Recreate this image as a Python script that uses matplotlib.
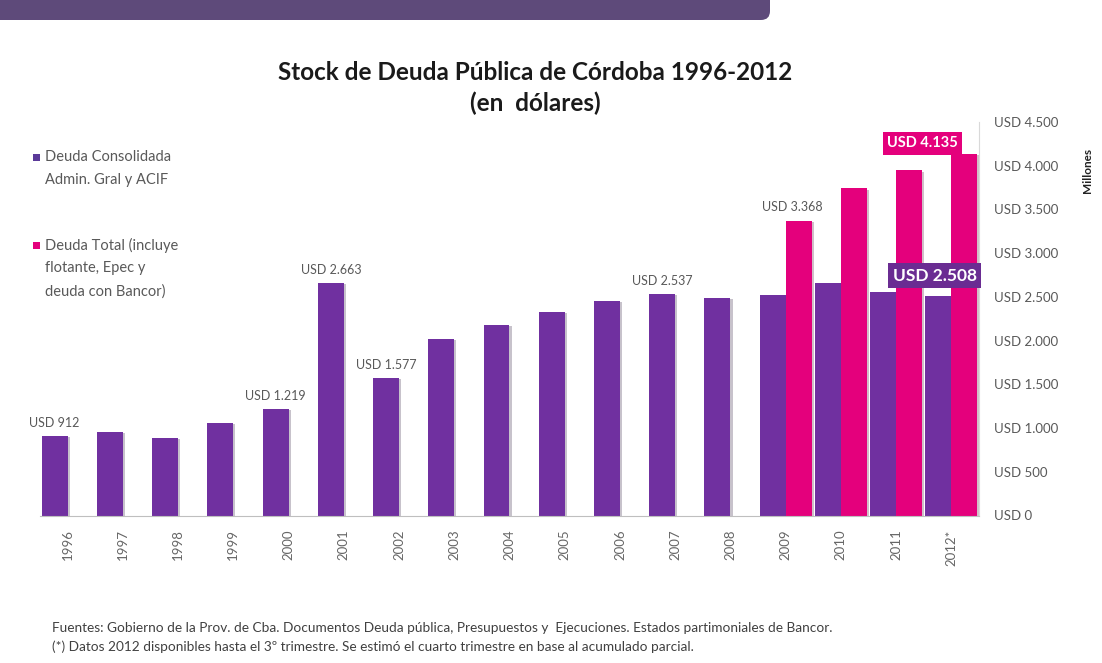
import numpy as np
import matplotlib
matplotlib.use("Agg")
import matplotlib.pyplot as plt
from matplotlib.patches import FancyBboxPatch, Rectangle
import matplotlib.patheffects as pe

years = ["1996", "1997", "1998", "1999", "2000", "2001", "2002", "2003", "2004",
         "2005", "2006", "2007", "2008", "2009", "2010", "2011", "2012*"]
consolidada = [912, 955, 888, 1060, 1219, 2663, 1577, 2022, 2182, 2331, 2457, 2537,
               2491, 2526, 2663, 2560, 2508]
total_years = ["2009", "2010", "2011", "2012*"]
total = [3368, 3740, 3946, 4135]

labels_cons = {"1996": "USD 912", "2000": "USD 1.219", "2001": "USD 2.663",
               "2002": "USD 1.577", "2007": "USD 2.537"}
yticks = [0, 500, 1000, 1500, 2000, 2500, 3000, 3500, 4000, 4500]
ytick_labels = ["USD 0", "USD 500", "USD 1.000", "USD 1.500", "USD 2.000",
                "USD 2.500", "USD 3.000", "USD 3.500", "USD 4.000", "USD 4.500"]

purple = "#7030A0"
magenta = "#E4007C"
gray = "#595959"

plt.rcParams['font.family'] = ['Lato', 'DejaVu Sans']

fig = plt.figure(figsize=(11.02, 6.63), dpi=100)
ax = fig.add_axes([40/1102, 1-515.5/663, (979-40)/1102, (515.5-122)/663])

x = np.arange(len(years))
w = 0.47
shadow = [pe.SimplePatchShadow(offset=(1.5, -1), alpha=0.25), pe.Normal()]

bars1 = ax.bar(x - w/2, consolidada, w, color=purple, zorder=2)
for b in bars1:
    b.set_path_effects(shadow)
xt = np.array([years.index(y) for y in total_years])
bars2 = ax.bar(xt + w/2, total, w, color=magenta, zorder=2)
for b in bars2:
    b.set_path_effects(shadow)

for yr, txt in labels_cons.items():
    i = years.index(yr)
    ax.annotate(txt, (i - w/2, consolidada[i]), xytext=(0, 5), textcoords="offset points",
                ha="center", va="bottom", fontsize=9, color=gray)
ax.annotate("USD 3.368", (xt[0] + w/2 - 0.12, total[0]), xytext=(0, 6), textcoords="offset points",
            ha="center", va="bottom", fontsize=9, color=gray)

# boxed labels for 2012
ax.text(15.47, 4255, "USD 4.135", ha="center", va="center", fontsize=10.5, fontweight="bold",
        color="white", zorder=5,
        bbox=dict(boxstyle="square,pad=0.28", fc=magenta, ec="none"))
ax.text(15.7, 2743, "USD 2.508", ha="center", va="center", fontsize=12.5, fontweight="bold",
        color="white", zorder=5,
        bbox=dict(boxstyle="square,pad=0.25", fc="#6A2C92", ec="none"))

ax.set_xlim(-0.5, len(years) - 0.5)
ax.set_ylim(0, 4500)
ax.set_xticks(x)
ax.set_xticklabels(years, rotation=90, fontsize=9.5, color="#666666")
ax.tick_params(axis="x", length=0, pad=10)
ax.yaxis.tick_right()
ax.set_yticks(yticks)
ax.set_yticklabels(ytick_labels, fontsize=9.5, color=gray)
ax.tick_params(axis="y", length=0, pad=11)
ax.spines['left'].set_visible(False)
ax.spines['top'].set_visible(False)
ax.spines['right'].set_color("#D9D9D9")
ax.spines['bottom'].set_color("#BFBFBF")
ax.spines['right'].set_linewidth(0.8)

fig.text(1088/1102, 1-170/663, "Millones", rotation=90, ha="center", va="center",
         fontsize=8.5, fontweight="bold", color="#222222")

fig.text(535/1102, 1-72/663, "Stock de Deuda Pública de Córdoba 1996-2012", ha="center",
         va="center", fontsize=17.5, fontweight="bold", color="#1A1A1A")
fig.text(535/1102, 1-103/663, "(en  dólares)", ha="center", va="center", fontsize=17.5,
         fontweight="bold", color="#1A1A1A")

# legend
fig.add_artist(Rectangle((33/1102, 1-161/663), 7/1102, 7/663, transform=fig.transFigure,
                         fc="#5B3A99", ec="none"))
fig.text(45/1102, 1-157/663, "Deuda Consolidada", fontsize=10.5, color=gray, va="center")
fig.text(45/1102, 1-180/663, "Admin. Gral y ACIF", fontsize=10.5, color=gray, va="center")
fig.add_artist(Rectangle((33/1102, 1-249/663), 7/1102, 7/663, transform=fig.transFigure,
                         fc=magenta, ec="none"))
fig.text(45/1102, 1-245/663, "Deuda Total (incluye", fontsize=10.5, color=gray, va="center")
fig.text(45/1102, 1-268/663, "flotante, Epec y", fontsize=10.5, color=gray, va="center")
fig.text(45/1102, 1-292/663, "deuda con Bancor)", fontsize=10.5, color=gray, va="center")

# notes
fig.text(52/1102, 1-628/663, "Fuentes: Gobierno de la Prov. de Cba. Documentos Deuda pública, "
         "Presupuestos y  Ejecuciones. Estados partimoniales de Bancor.",
         fontsize=9.8, color="#404040", va="center")
fig.text(52/1102, 1-647/663, "(*) Datos 2012 disponibles hasta el 3º trimestre. Se estimó el "
         "cuarto trimestre en base al acumulado parcial.",
         fontsize=9.8, color="#404040", va="center")

# header band
fig.add_artist(FancyBboxPatch((-30, 663-20), 800, 50, boxstyle="round,pad=0,rounding_size=9",
                              transform=None, fc="#5E4A7A", ec="none"))

fig.savefig("out.png", dpi=100)
